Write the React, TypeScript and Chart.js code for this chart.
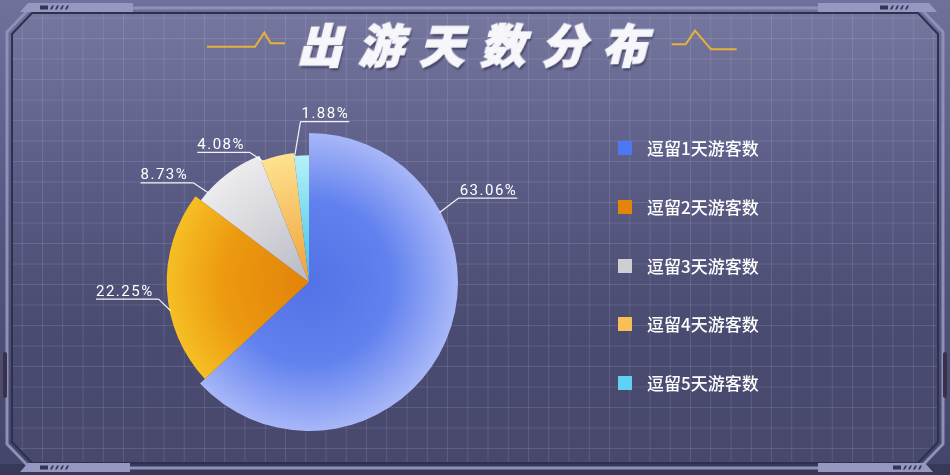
import { useEffect, useRef } from 'react';
import { Chart, ArcElement, PieController } from 'chart.js';
import type { Plugin, ScriptableContext } from 'chart.js';

Chart.register(ArcElement, PieController);

// data
const categories = ['逗留1天游客数', '逗留2天游客数', '逗留3天游客数', '逗留4天游客数', '逗留5天游客数'];
const shares = [63.06, 22.25, 8.73, 4.08, 1.88];

// styling
const legendColors = ['#4d78f4', '#e5840b', '#cfcfd3', '#f7bf55', '#5fd1f2'];
const sliceStops: [number, string][][] = [
  [[0, '#5272e6'], [0.55, '#6181ee'], [1, '#a8b7f8']],
  [[0, '#e2830a'], [0.6, '#ec990f'], [1, '#f6bf24']],
  [[0, '#b9b9c2'], [1, '#ececef']],
  [[0, '#f09f38'], [1, '#fde28f']],
  [[0, '#3fc0e6'], [1, '#b6f1f9']]
];
const radiusScale = [1, 0.955, 0.91, 0.872, 0.85];
// where each leader line leaves its slice (fraction of the arc) and the elbow offset
const labelLayout = [
  { at: 0.273, dx: 19, dy: -14.4, side: 1 },
  { at: 0.39, dx: -12, dy: -11.7, side: -1 },
  { at: 0.14, dx: -15, dy: -10, side: -1 },
  { at: 0.05, dx: -13.4, dy: -9, side: -1 },
  { at: 0.02, dx: 6, dy: -35.5, side: 1 }
];

const sliceRadius: Plugin<'pie'> = {
  id: 'sliceRadius',
  beforeDatasetsDraw(chart) {
    const meta = chart.getDatasetMeta(0);
    const base = (meta.controller as any).outerRadius as number;
    meta.data.forEach((arc: any, i) => {
      arc.outerRadius = base * radiusScale[i];
    });
  }
};

const leaderLabels: Plugin<'pie'> = {
  id: 'leaderLabels',
  afterDatasetsDraw(chart) {
    const ctx = chart.ctx;
    const meta = chart.getDatasetMeta(0);
    ctx.save();
    ctx.font = '15px Roboto';
    (ctx as any).letterSpacing = '1.5px';
    ctx.strokeStyle = 'rgba(255,255,255,0.92)';
    ctx.fillStyle = '#ffffff';
    ctx.lineWidth = 1.2;
    ctx.textBaseline = 'alphabetic';
    meta.data.forEach((el: any, i) => {
      const { x, y, startAngle, endAngle, outerRadius } = el.getProps(
        ['x', 'y', 'startAngle', 'endAngle', 'outerRadius'], true
      );
      const lay = labelLayout[i];
      const a = startAngle + (endAngle - startAngle) * lay.at;
      const ax = x + Math.cos(a) * (outerRadius - 1);
      const ay = y + Math.sin(a) * (outerRadius - 1);
      const ex = ax + lay.dx;
      const ey = ay + lay.dy;
      const text = shares[i].toFixed(2) + '%';
      const w = ctx.measureText(text).width;
      let x0: number, x1: number, tx: number;
      if (lay.side > 0) {
        x0 = ex; x1 = ex + w + 1; tx = ex + 1;
      } else {
        x0 = ex - w - 5; x1 = ex; tx = x0;
      }
      ctx.beginPath();
      ctx.moveTo(ax, ay);
      ctx.lineTo(ex, ey);
      ctx.moveTo(x0, ey);
      ctx.lineTo(x1, ey);
      ctx.stroke();
      ctx.fillText(text, tx, ey - 3.5);
    });
    ctx.restore();
  }
};

function PieChart() {
  const canvasRef = useRef<HTMLCanvasElement | null>(null);

  useEffect(() => {
    if (!canvasRef.current) return;
    const chart = new Chart(canvasRef.current, {
      type: 'pie',
      data: {
        labels: categories,
        datasets: [{
          data: shares,
          borderWidth: 0,
          backgroundColor: (c: ScriptableContext<'pie'>) => {
            const { chart, dataIndex } = c;
            const area = chart.chartArea;
            if (!area || dataIndex === undefined) return legendColors[dataIndex ?? 0];
            const cx = (area.left + area.right) / 2;
            const cy = (area.top + area.bottom) / 2;
            const r = (Math.min(area.width, area.height) / 2) * radiusScale[dataIndex];
            const g = chart.ctx.createRadialGradient(cx, cy, 0, cx, cy, r);
            sliceStops[dataIndex].forEach(([o, col]) => g.addColorStop(o, col));
            return g;
          }
        }]
      },
      options: {
        responsive: false,
        animation: false,
        events: [],
        layout: { padding: { left: 160, top: 133, right: 492, bottom: 44 } },
        plugins: {
          legend: { display: false },
          tooltip: { enabled: false }
        }
      },
      plugins: [sliceRadius, leaderLabels]
    });
    return () => chart.destroy();
  }, []);

  return (
    <canvas
      ref={canvasRef}
      width={950}
      height={475}
      style={{ position: 'absolute', left: 0, top: 0, width: 950, height: 475 }}
    />
  );
}

const panelPath = 'M12,34 L32,13 L918,13 L938,34 L938,442 L918,463 L32,463 L12,442 Z';
const outerPath = 'M7,32 L30,8 L920,8 L943,32 L943,444 L920,468 L30,468 L7,444 Z';

function Tab({ x, y, w, flip, stripesAt }: { x: number; y: number; w: number; flip: boolean; stripesAt: number }) {
  const h = 9;
  const pts = flip
    ? `${x},${y} ${x + w - 8},${y} ${x + w},${y + h} ${x},${y + h}`
    : `${x + 8},${y} ${x + w},${y} ${x + w},${y + h} ${x},${y + h}`;
  const stripes = [0, 1, 2, 3].map(k => {
    const sx = stripesAt + 10 + k * 5;
    return `M${sx + 2},${y + 2.5} L${sx + 4},${y + 2.5} L${sx + 2},${y + 6.5} L${sx},${y + 6.5} Z`;
  });
  return (
    <g>
      <polygon points={pts} fill="#9598c0" />
      <rect x={stripesAt} y={y + 2.5} width={8} height={4} fill="#33345a" />
      <path d={stripes.join(' ')} fill="#33345a" />
    </g>
  );
}

function Backdrop() {
  const xs: number[] = [];
  for (let x = 2; x < 950; x += 20.25) xs.push(x);
  const ys: number[] = [];
  for (let y = 18; y < 475; y += 20.5) ys.push(y);
  return (
    <svg width={950} height={475} style={{ position: 'absolute', left: 0, top: 0 }}>
      <defs>
        <linearGradient id="bg" x1="0" y1="0" x2="0" y2="1">
          <stop offset="0" stopColor="#6f719b" />
          <stop offset="0.5" stopColor="#55567f" />
          <stop offset="1" stopColor="#44456a" />
        </linearGradient>
        <linearGradient id="panel" x1="0" y1="0" x2="0" y2="1">
          <stop offset="0" stopColor="#75779f" />
          <stop offset="0.35" stopColor="#5c5d86" />
          <stop offset="0.7" stopColor="#4a4b70" />
          <stop offset="1" stopColor="#47486c" />
        </linearGradient>
        <linearGradient id="title" x1="0" y1="0" x2="0" y2="1">
          <stop offset="0" stopColor="#ffffff" />
          <stop offset="1" stopColor="#dcdce6" />
        </linearGradient>
        <clipPath id="panelClip">
          <path d={panelPath} />
        </clipPath>
      </defs>
      <rect width={950} height={475} fill="url(#bg)" />
      <rect x={0} y={464} width={950} height={11} fill="#383958" />
      <path d={panelPath} fill="url(#panel)" />
      <g clipPath="url(#panelClip)" stroke="rgba(215,218,255,0.14)" strokeWidth={1}>
        {xs.map(x => <line key={'x' + x} x1={x} y1={0} x2={x} y2={475} />)}
        {ys.map(y => <line key={'y' + y} x1={0} y1={y} x2={950} y2={y} />)}
      </g>
      <path d={outerPath} fill="none" stroke="#8d90b8" strokeWidth={3} />
      <path d={panelPath} fill="none" stroke="#2f304e" strokeWidth={2} />
      <rect x={3} y={352} width={4} height={46} rx={2} fill="#3b3049" />
      <rect x={943} y={352} width={4} height={46} rx={2} fill="#3b3049" />
      <Tab x={20} y={3} w={113} flip={false} stripesAt={40} />
      <Tab x={818} y={3} w={119} flip={true} stripesAt={880} />
      <Tab x={20} y={463} w={110} flip={false} stripesAt={40} />
      <Tab x={818} y={463} w={115} flip={true} stripesAt={893} />
      <polyline points="207,46.7 255,46.7 264.3,32.7 270.7,43.3 285,43.3" fill="none" stroke="#e8b13a" strokeWidth={2} />
      <polyline points="671.7,44.3 685.7,44.3 695,30.7 711,49.3 736.7,49.3" fill="none" stroke="#e8b13a" strokeWidth={2} />
    </svg>
  );
}

export default function App() {
  return (
    <div style={{ position: 'fixed', left: 0, top: 0, width: 950, height: 475, overflow: 'hidden' }}>
      <Backdrop />
      <PieChart />
      <div
        style={{
          position: 'absolute', left: 0, top: 16, width: 950, height: 54, lineHeight: '54px',
          textAlign: 'center', paddingLeft: 20, boxSizing: 'border-box',
          fontFamily: '"Noto Sans CJK SC"', fontWeight: 900, fontSize: 45, letterSpacing: 16,
          color: '#f7f7fb', transform: 'skewX(-14deg)',
          WebkitTextStroke: '1.5px #f4f4f8',
          textShadow: '2px 3px 2px rgba(30,30,60,0.55)'
        }}
      >
        出游天数分布
      </div>
      {categories.map((name, i) => (
        <div
          key={name}
          style={{
            position: 'absolute', left: 618, top: 138 + i * 58.8, height: 20,
            display: 'flex', alignItems: 'center'
          }}
        >
          <span style={{ width: 14, height: 14, background: legendColors[i], display: 'inline-block' }} />
          <span
            style={{
              marginLeft: 15, color: '#ffffff', fontFamily: '"Noto Sans CJK SC"',
              fontWeight: 500, fontSize: 17, lineHeight: '20px'
            }}
          >
            {name}
          </span>
        </div>
      ))}
    </div>
  );
}
